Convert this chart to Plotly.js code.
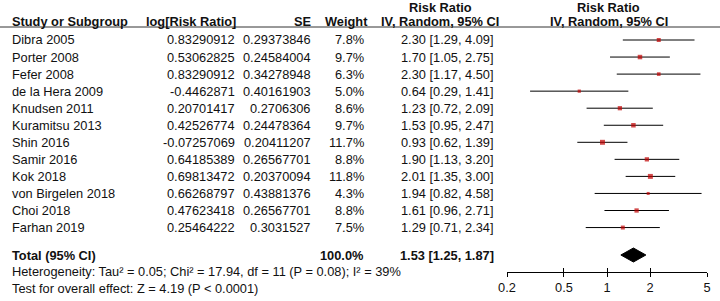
<!DOCTYPE html>
<html><head><meta charset="utf-8">
<script src="https://cdn.plot.ly/plotly-3.0.1.min.js"></script>
<style>html,body{margin:0;padding:0;background:#fff}</style>
</head><body><div id="chart" style="width:720px;height:301px"></div>
<script>
// ---- data ----
const studies = ['Dibra 2005','Porter 2008','Fefer 2008','de la Hera 2009','Knudsen 2011','Kuramitsu 2013','Shin 2016','Samir 2016','Kok 2018','von Birgelen 2018','Choi 2018','Farhan 2019'];
const logRR = [0.83290912,0.53062825,0.83290912,-0.4462871,0.20701417,0.42526774,-0.07257069,0.64185389,0.69813472,0.66268797,0.47623418,0.25464222];
const seVals = [0.29373846,0.24584004,0.34278948,0.40161903,0.2706306,0.24478364,0.20411207,0.26567701,0.20370094,0.43881376,0.26567701,0.3031527];
const weights = [7.8,9.7,6.3,5.0,8.6,9.7,11.7,8.8,11.8,4.3,8.8,7.5];
const rr = [2.30,1.70,2.30,0.64,1.23,1.53,0.93,1.90,2.01,1.94,1.61,1.29];
const ciLow = [1.29,1.05,1.17,0.29,0.72,0.95,0.62,1.13,1.35,0.82,0.96,0.71];
const ciHigh = [4.09,2.75,4.50,1.41,2.09,2.47,1.39,3.20,3.00,4.58,2.71,2.34];
const totalRR = 1.53, totalLow = 1.25, totalHigh = 1.87, totalWeight = 100.0;
const tickVals = [0.2,0.5,1,2,5];
const tickText = ['0.2','0.5','1','2','5'];
const hetText = 'Heterogeneity: Tau\u00b2 = 0.05; Chi\u00b2 = 17.94, df = 11 (P = 0.08); I\u00b2 = 39%';
const testText = 'Test for overall effect: Z = 4.19 (P < 0.0001)';

// ---- layout helpers (pixels) ----
const W = 720, H = 301;
const AXIS_Y = 272, HEADER_LINE = 27;
const ROW0 = 40, PITCH = 17.05, TOTAL_Y = 255;
const rowPix = i => ROW0 + PITCH * i;
const py = p => 1 - p / H;
const px = p => p / W;
const FONT = 'Liberation Sans, Arial, sans-serif';
const FS = 12.8;
const TXT = '#111';

// ---- traces ----
const ciX = [], ciY = [];
studies.forEach((s, i) => { ciX.push(ciLow[i], ciHigh[i], null); ciY.push(rowPix(i), rowPix(i), null); });

const traces = [
  {x: ciX, y: ciY, mode: 'lines', line: {color: '#000', width: 1}, xaxis: 'x', yaxis: 'y', hoverinfo: 'skip'},
  {x: rr, y: studies.map((s, i) => rowPix(i)), mode: 'markers',
   marker: {symbol: 'square', color: '#c00000', size: weights.map(w => 1.45 * Math.sqrt(w)), line: {width: 0}},
   xaxis: 'x', yaxis: 'y'},
  {x: [totalLow, totalRR, totalHigh, totalRR, totalLow], y: [TOTAL_Y, TOTAL_Y - 7, TOTAL_Y, TOTAL_Y + 7, TOTAL_Y],
   mode: 'lines', fill: 'toself', fillcolor: '#000', line: {color: '#000', width: 1}, xaxis: 'x', yaxis: 'y'},
  {x: [1], y: [TOTAL_Y], mode: 'markers', marker: {opacity: 0}, xaxis: 'x2', yaxis: 'y', hoverinfo: 'skip'}
];

// ---- annotations ----
const ann = [];
function t(text, xPix, yPix, anchor, bold) {
  ann.push({text: bold ? '<b>' + text + '</b>' : text, x: px(xPix), y: py(yPix), xref: 'paper', yref: 'paper',
    xanchor: anchor, yanchor: 'middle', showarrow: false, borderpad: 0, font: {family: FONT, size: FS, color: TXT}});
}
// headers
t('Study or Subgroup', 11, 21, 'left', true);
t('log[Risk Ratio]', 237, 21, 'right', true);
t('SE', 313, 21, 'right', true);
t('Weight', 369, 21, 'right', true);
t('Risk Ratio', 440, 7, 'center', true);
t('IV, Random, 95% CI', 440, 21, 'center', true);
t('Risk Ratio', 608, 7, 'center', true);
t('IV, Random, 95% CI', 609, 21, 'center', true);
// rows
studies.forEach((s, i) => {
  const y = rowPix(i);
  t(s, 11, y, 'left');
  t(String(logRR[i]), 236, y, 'right');
  t(String(seVals[i]), 312, y, 'right');
  t(weights[i].toFixed(1) + '%', 365, y, 'right');
  t(rr[i].toFixed(2) + ' [' + ciLow[i].toFixed(2) + ', ' + ciHigh[i].toFixed(2) + ']', 495, y, 'right');
});
t('Total (95% CI)', 11, TOTAL_Y, 'left', true);
t(totalWeight.toFixed(1) + '%', 365, TOTAL_Y, 'right', true);
t(totalRR.toFixed(2) + ' [' + totalLow.toFixed(2) + ', ' + totalHigh.toFixed(2) + ']', 495, TOTAL_Y, 'right', true);
t(hetText, 11, 271, 'left');
t(testText, 11, 288, 'left');

const xr = [Math.log10(0.2), Math.log10(5)];
const layout = {
  width: W, height: H, margin: {l: 0, r: 0, t: 0, b: 0},
  paper_bgcolor: '#fff', plot_bgcolor: 'rgba(0,0,0,0)', showlegend: false,
  xaxis: {type: 'log', range: xr, domain: [px(507), px(707)], anchor: 'y',
    tickvals: tickVals, ticktext: tickText, ticks: 'outside', ticklen: 4, tickcolor: '#000', tickwidth: 1,
    showline: true, linecolor: '#000', linewidth: 1, showgrid: false, zeroline: false,
    tickfont: {family: FONT, size: FS, color: TXT}, fixedrange: true},
  xaxis2: {type: 'log', range: xr, domain: [px(507), px(707)], anchor: 'y', overlaying: 'x',
    tickvals: tickVals, ticks: 'inside', ticklen: 4, tickcolor: '#000', tickwidth: 1,
    showticklabels: false, showline: false, showgrid: false, zeroline: false, fixedrange: true},
  yaxis: {range: [AXIS_Y, 0], domain: [1 - AXIS_Y / H, 1], visible: false, showgrid: false, zeroline: false, fixedrange: true},
  shapes: [
    {type: 'line', xref: 'paper', yref: 'y', x0: 0, x1: 1, y0: HEADER_LINE, y1: HEADER_LINE, line: {color: '#333', width: 1}},
    {type: 'line', xref: 'x', yref: 'y', x0: 0, x1: 0, y0: HEADER_LINE, y1: AXIS_Y, line: {color: '#333', width: 1}}
  ],
  annotations: ann
};
Plotly.newPlot('chart', traces, layout, {displayModeBar: false, staticPlot: true});
</script></body></html>
